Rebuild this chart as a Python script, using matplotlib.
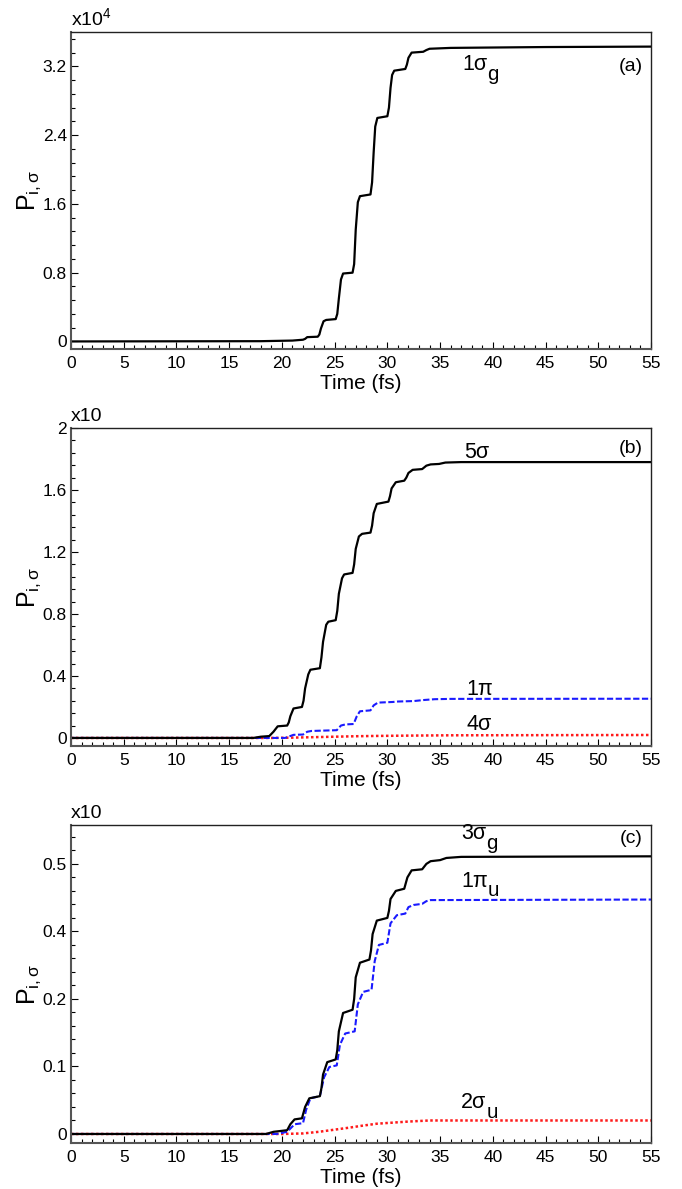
import matplotlib
matplotlib.use("Agg")
import matplotlib.pyplot as plt
from matplotlib.ticker import MultipleLocator, FixedLocator

plt.rcParams['font.family'] = ['Liberation Sans', 'DejaVu Sans']
plt.rcParams['mathtext.fontset'] = 'custom'
plt.rcParams['mathtext.rm'] = 'Liberation Sans'
plt.rcParams['mathtext.it'] = 'Liberation Sans'
plt.rcParams['mathtext.bf'] = 'Liberation Sans:bold'

# (time fs, value) points
sigma_g1 = [(0, 0), (18, 0.003), (21, 0.01), (22.0, 0.02), (22.2, 0.03), (22.4, 0.05), (23.4, 0.055),
            (23.55, 0.08), (23.7, 0.15), (23.95, 0.235), (24.2, 0.25), (25.1, 0.26), (25.25, 0.32),
            (25.4, 0.5), (25.6, 0.72), (25.8, 0.79), (26.7, 0.80), (26.85, 0.9), (27.0, 1.3),
            (27.2, 1.62), (27.4, 1.69), (28.4, 1.71), (28.55, 1.85), (28.7, 2.2), (28.85, 2.5),
            (29.05, 2.60), (30.0, 2.62), (30.15, 2.72), (30.3, 2.95), (30.45, 3.1), (30.65, 3.15),
            (31.7, 3.17), (31.85, 3.22), (32.0, 3.3), (32.3, 3.36), (33.4, 3.37), (33.7, 3.39),
            (34.0, 3.405), (36, 3.415), (45, 3.425), (55, 3.43)]

sigma5 = [(0, 0), (17.3, 0), (18.0, 0.008), (18.8, 0.012), (19.2, 0.04), (19.6, 0.075),
          (20.5, 0.08), (20.65, 0.1), (20.8, 0.14), (21.1, 0.19), (21.9, 0.20), (22.05, 0.24),
          (22.2, 0.32), (22.5, 0.41), (22.7, 0.44), (23.6, 0.45), (23.75, 0.52), (23.9, 0.62),
          (24.2, 0.73), (24.4, 0.75), (25.1, 0.76), (25.25, 0.82), (25.4, 0.93), (25.7, 1.03),
          (25.9, 1.055), (26.7, 1.065), (26.85, 1.12), (27.0, 1.22), (27.3, 1.30), (27.6, 1.317),
          (28.4, 1.325), (28.55, 1.37), (28.7, 1.45), (29.0, 1.51), (30.1, 1.525), (30.25, 1.56),
          (30.4, 1.61), (30.8, 1.65), (31.6, 1.66), (31.8, 1.68), (32.0, 1.71), (32.4, 1.73),
          (33.3, 1.735), (33.7, 1.757), (34.1, 1.765), (34.9, 1.768), (35.5, 1.777),
          (37, 1.78), (55, 1.78)]
pi1 = [(0, 0), (20.3, 0), (20.7, 0.01), (21.1, 0.02), (22.0, 0.022), (22.4, 0.04),
       (22.8, 0.045), (25.2, 0.05), (25.6, 0.08), (26.0, 0.087), (26.8, 0.09),
       (27.1, 0.14), (27.4, 0.172), (28.4, 0.178), (28.7, 0.21), (29.1, 0.228),
       (30.5, 0.232), (31.0, 0.235), (32.5, 0.238), (33.5, 0.245), (34.5, 0.25),
       (36, 0.252), (55, 0.253)]
sigma4 = [(0, 0), (19, 0), (21, 0.002), (23, 0.005), (25, 0.008), (27, 0.011),
          (29, 0.013), (32, 0.015), (36, 0.017), (45, 0.018), (55, 0.019)]

sigma_g3 = [(0, 0), (18.5, 0), (19.2, 0.004), (20.5, 0.007), (20.8, 0.018), (21.2, 0.027),
            (21.9, 0.029), (22.2, 0.05), (22.6, 0.066), (23.6, 0.07), (23.75, 0.085),
            (23.9, 0.11), (24.3, 0.133), (25.1, 0.138), (25.25, 0.155), (25.4, 0.19),
            (25.8, 0.224), (26.7, 0.23), (26.85, 0.25), (27.0, 0.29), (27.4, 0.317),
            (28.3, 0.323), (28.45, 0.34), (28.6, 0.37), (29.0, 0.395), (30.0, 0.40),
            (30.15, 0.413), (30.3, 0.435), (30.8, 0.45), (31.6, 0.454), (31.9, 0.475),
            (32.3, 0.488), (33.3, 0.49), (33.7, 0.5), (34.1, 0.505), (35.0, 0.507),
            (35.6, 0.511), (37, 0.513), (55, 0.514)]
pi_u1 = [(0, 0), (19.5, 0), (20.5, 0.004), (20.9, 0.012), (21.2, 0.018), (22.0, 0.02),
         (22.3, 0.045), (22.7, 0.066), (23.6, 0.07), (24.0, 0.105), (24.5, 0.124),
         (25.2, 0.127), (25.5, 0.165), (26.0, 0.186), (26.9, 0.19), (27.2, 0.24),
         (27.7, 0.263), (28.5, 0.267), (28.8, 0.32), (29.2, 0.35), (30.0, 0.354),
         (30.3, 0.39), (30.9, 0.405), (31.7, 0.408), (32.0, 0.42), (32.5, 0.424),
         (33.3, 0.426), (33.7, 0.431), (34.1, 0.433), (55, 0.434)]
sigma_u2 = [(0, 0), (20, 0), (22, 0.001), (23.5, 0.004), (25, 0.008), (26.5, 0.012),
            (27.5, 0.015), (29, 0.019), (30.5, 0.021), (32, 0.023), (34, 0.025),
            (40, 0.025), (55, 0.025)]

yticks_a = [0, 0.8, 1.6, 2.4, 3.2]
yticklabels_a = ['0', '0.8', '1.6', '2.4', '3.2']
yticks_b = [0, 0.4, 0.8, 1.2, 1.6, 2.0]
yticklabels_b = ['0', '0.4', '0.8', '1.2', '1.6', '2']
yticks_c = [0, 0.125, 0.25, 0.375, 0.5]
yticklabels_c = ['0', '0.1', '0.2', '0.4', '0.5']

W, H = 682, 1189
fig = plt.figure(figsize=(W / 100, H / 100), dpi=100)
renderer = fig.canvas.get_renderer()

def make_ax(top, bottom):
    ax = fig.add_axes([71 / W, 1 - bottom / H, 580 / W, (bottom - top) / H])
    ax.set_xlim(0, 55)
    ax.xaxis.set_major_locator(MultipleLocator(5))
    ax.xaxis.set_minor_locator(MultipleLocator(1))
    ax.tick_params(which='both', direction='in', top=False, right=False, labelsize=12.5)
    ax.tick_params(axis='x', pad=5)
    ax.tick_params(axis='y', pad=3)
    ax.tick_params(which='major', length=5, width=0.8)
    ax.tick_params(which='minor', length=3, width=0.8)
    for s in ['top', 'right']:
        ax.spines[s].set_linewidth(1.0)
        ax.spines[s].set_color('#222222')
    for s in ['left', 'bottom']:
        ax.spines[s].set_linewidth(1.5)
        ax.spines[s].set_color('#555555')
    ax.set_xlabel('Time (fs)', fontsize=15, labelpad=2)
    ax.set_ylabel(r'$\mathrm{P_{i,\sigma}}$', fontsize=18, labelpad=0)
    return ax

def draw(ax, pts, **kw):
    t, v = zip(*pts)
    ax.plot(t, v, **kw)

def label(ax, x, y, main, sub=None, size=15.5):
    # main text plus a large, lowered subscript like the original
    t = ax.text(x, y, main, fontsize=size, ha='left', va='center')
    if sub:
        w = t.get_window_extent(renderer).width * 72 / fig.dpi
        ax.annotate(sub, xy=(x, y), xytext=(w, -size * 0.45), textcoords='offset points',
                    fontsize=size * 0.95, ha='left', va='center')

black = dict(color='black', lw=1.6, solid_joinstyle='round')
blue = dict(color='#1a1aff', lw=1.5, ls=(0, (3, 1.2)))
red = dict(color='#ff1a1a', lw=1.8, ls=(0, (1, 1)))

# (a)
ax = make_ax(32, 349)
draw(ax, sigma_g1, **black)
ax.set_ylim(-0.088, 3.60)
ax.yaxis.set_major_locator(FixedLocator(yticks_a))
ax.set_yticklabels(yticklabels_a)
ax.yaxis.set_minor_locator(MultipleLocator(0.16))
ax.text(0, 1.01, r'x10$^{4}$', transform=ax.transAxes, fontsize=14, ha='left', va='bottom')
ax.text(0.986, 0.89, '(a)', transform=ax.transAxes, fontsize=14, ha='right', va='center')
label(ax, 37.1, 3.22, '1σ', 'g')

# (b)
ax = make_ax(428, 746)
draw(ax, sigma4, **red)
draw(ax, pi1, **blue)
draw(ax, sigma5, **black)
ax.set_ylim(-0.052, 2.0)
ax.yaxis.set_major_locator(FixedLocator(yticks_b))
ax.set_yticklabels(yticklabels_b)
ax.yaxis.set_minor_locator(MultipleLocator(0.08))
ax.text(0, 1.01, 'x10', transform=ax.transAxes, fontsize=14, ha='left', va='bottom')
ax.text(0.986, 0.937, '(b)', transform=ax.transAxes, fontsize=14, ha='right', va='center')
label(ax, 37.3, 1.84, '5σ')
label(ax, 37.5, 0.31, '1π')
label(ax, 37.5, 0.084, '4σ')

# (c)
ax = make_ax(825, 1143)
draw(ax, sigma_u2, **red)
draw(ax, pi_u1, **blue)
draw(ax, sigma_g3, **black)
ax.set_ylim(-0.0167, 0.572)
ax.yaxis.set_major_locator(FixedLocator(yticks_c))
ax.set_yticklabels(yticklabels_c)
ax.yaxis.set_minor_locator(MultipleLocator(0.025))
ax.text(0, 1.01, 'x10', transform=ax.transAxes, fontsize=14, ha='left', va='bottom')
ax.text(0.986, 0.959, '(c)', transform=ax.transAxes, fontsize=14, ha='right', va='center')
label(ax, 37.0, 0.556, '3σ', 'g')
label(ax, 37.0, 0.468, '1π', 'u')
label(ax, 37.0, 0.058, '2σ', 'u')

fig.savefig('out.png', dpi=100)
